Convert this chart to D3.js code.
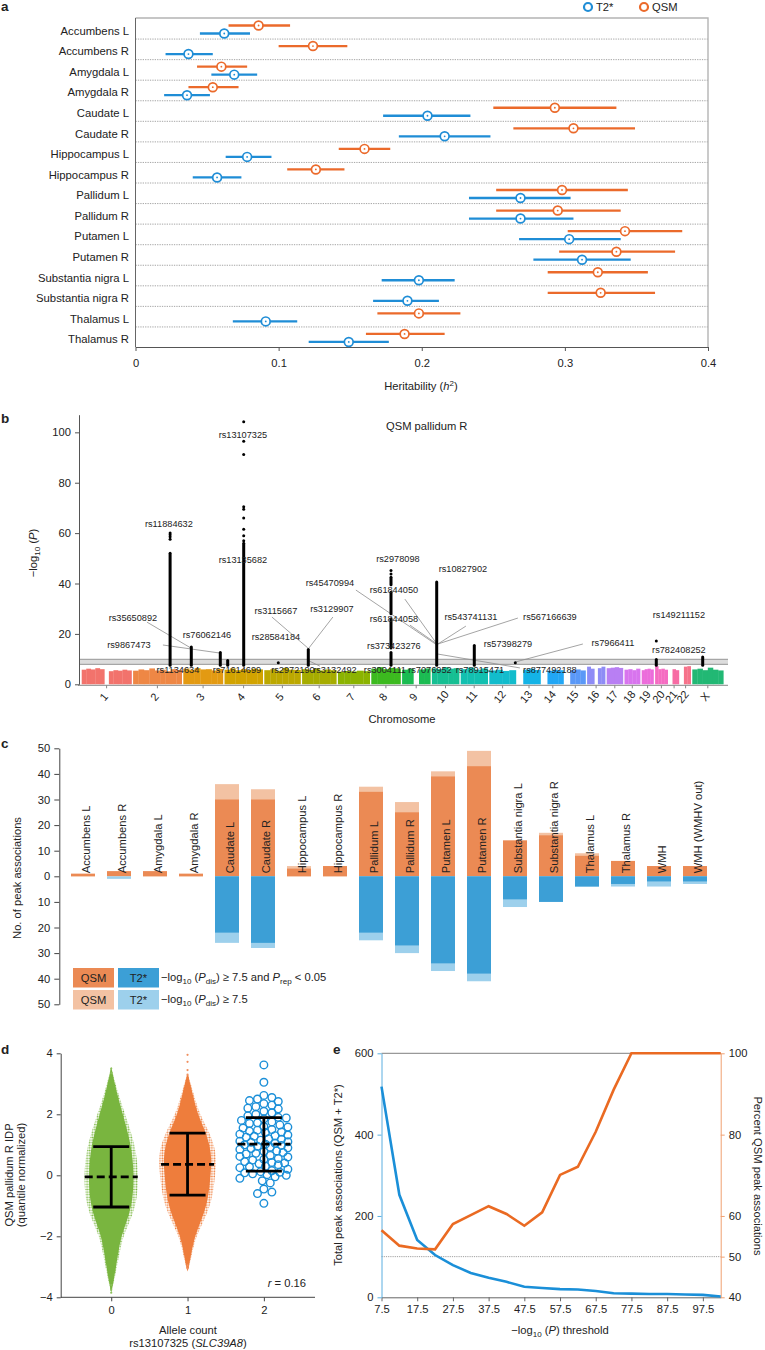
<!DOCTYPE html>
<html><head><meta charset="utf-8">
<script src="https://cdn.jsdelivr.net/npm/d3@7"></script>
<style>
body{margin:0;background:#fff}
svg{display:block}
text{font-family:"Liberation Sans",Arial,Helvetica,sans-serif;fill:#222}
</style></head>
<body><svg id="fig" width="765" height="1350"></svg>
<script>
// ================= DATA =================
// --- panel a: heritability ---
const regions = ["Accumbens L","Accumbens R","Amygdala L","Amygdala R","Caudate L","Caudate R","Hippocampus L","Hippocampus R","Pallidum L","Pallidum R","Putamen L","Putamen R","Substantia nigra L","Substantia nigra R","Thalamus L","Thalamus R"];
const qsmH2 = [0.086,0.124,0.060,0.054,0.293,0.306,0.160,0.126,0.298,0.295,0.342,0.336,0.323,0.325,0.198,0.188];
const qsmLo = [0.065,0.100,0.043,0.037,0.250,0.264,0.142,0.106,0.252,0.252,0.302,0.296,0.288,0.288,0.169,0.161];
const qsmHi = [0.108,0.148,0.078,0.072,0.336,0.349,0.178,0.146,0.344,0.339,0.382,0.377,0.358,0.363,0.227,0.216];
const t2H2  = [0.062,0.037,0.069,0.036,0.204,0.216,0.078,0.057,0.269,0.269,0.303,0.312,0.198,0.190,0.091,0.149];
const t2Lo  = [0.045,0.021,0.053,0.020,0.173,0.184,0.063,0.040,0.233,0.233,0.268,0.278,0.172,0.166,0.068,0.121];
const t2Hi  = [0.080,0.054,0.085,0.052,0.234,0.248,0.095,0.074,0.304,0.306,0.339,0.346,0.223,0.212,0.113,0.177];
const h2Ticks = [0,0.1,0.2,0.3,0.4];

// --- panel b: Manhattan plot ---
const chroms = ["1","2","3","4","5","6","7","8","9","10","11","12","13","14","15","16","17","18","19","20","21","22","X"];
const chromLenMb = [249,243,198,191,181,171,159,146,141,136,135,133,115,107,102,90,81,78,59,63,48,51,155];
const chromColors = ["#f2736c","#ee8745","#e39a12","#d2a300","#bca800","#a6ac00","#8bb300","#3cba1f","#1bbc52","#16bf93","#12c0b0","#12bccc","#14b3e6","#22a7f5","#5a98f7","#8e8cf6","#b87ff3","#d874ee","#ec6cdb","#f56cc2","#f76ca4","#f6728a","#22b874"];
const noiseTop = [
 [5.8,6.2,5.9,6.4,6.0,0,5.2,5.6,5.4,5.8,5.5],
 [5.4,5.9,5.6,6.3,5.5,5.8,5.2,6.0,5.7],
 [6.2,5.8,6.4,5.9,6.0,5.5,6.1],
 [5.8,6.3,5.6,6.0,5.7,6.2,5.9],
 [5.6,6.0,5.4,6.5,5.8,5.7],
 [6.0,5.7,6.3,5.5,5.9,5.6],
 [5.0,5.3,5.1,5.4,5.2],
 [6.2,6.8,6.0,6.5,6.3],
 [5.8,6.2,0,5.9,6.3],
 [6.3,6.0,6.8,6.2,6.4],
 [6.0,6.6,5.8,6.3],
 [5.5,5.8,5.3,5.6],
 [0,5.8,6.2,5.7],
 [0,5.4,5.8,5.6],
 [0,5.6,5.9,5.5],
 [7.0,6.2,0,6.4,7.0],
 [6.4,6.6,6.8,6.5],
 [5.8,6.0,5.6,6.2],
 [5.6,6.0,6.2,5.9],
 [7.2,6.0,6.2,5.8],
 [0,6.0,5.6],
 [0,7.0,7.2],
 [5.9,6.2,5.6,6.6,5.8,5.5]
];
const yTicksB = [0,20,40,60,80,100];
const threshBand = [7.9, 9.9];
// significant loci: chromosome, position (Mb), dense runs of -log10P, isolated points
const peaks = [
 {chr:"2", pos:185, runs:[[7.6,52]], dots:[57.6,58.6,59.4,60]},
 {chr:"3", pos:40,  runs:[[7.6,14.8]], dots:[]},
 {chr:"3", pos:185, runs:[[7.6,12.6]], dots:[]},
 {chr:"4", pos:16,  runs:[[7.6,9.4]], dots:[]},
 {chr:"4", pos:96,  runs:[[7.6,56]], dots:[57,59,61.5,66,69.5,70.5,91.2,96.5,104.2]},
 {chr:"5", pos:70,  runs:[], dots:[8.6]},
 {chr:"6", pos:31,  runs:[[7.6,13.8]], dots:[]},
 {chr:"8", pos:98.5,runs:[[7.6,12.6],[14.4,26],[28,36.5],[39.5,42.5]], dots:[14.9,43.8,45.2]},
 {chr:"10",pos:24,  runs:[[7.6,40.6]], dots:[]},
 {chr:"11",pos:68,  runs:[[7.6,15.4]], dots:[]},
 {chr:"12",pos:130, runs:[], dots:[8.6]},
 {chr:"20",pos:6,   runs:[[7.6,9.8]], dots:[17.2]},
 {chr:"X", pos:52,  runs:[[7.6,10.8]], dots:[]}
];
// SNP annotations: genome coordinate (cumulative Mb), -log10P level, optional leader line [g1,v1,g2,v2]
const snpLabels = [
 {id:"rs13107325", g:806, v:98.9},
 {id:"rs11884632", g:436, v:63.6},
 {id:"rs13135682", g:806, v:49.3},
 {id:"rs45470994", g:1241, v:40.2, line:[1371,37.4,1776,15.6]},
 {id:"rs3115667",  g:971, v:29.1, line:[951,26.7,1131,14.4]},
 {id:"rs3129907",  g:1251, v:29.9, line:[1256,26.7,1136,14.4]},
 {id:"rs35650892", g:256, v:26.3, line:[326,24.7,546,14.4]},
 {id:"rs76062146", g:626, v:19.6},
 {id:"rs28584184", g:971, v:18.8},
 {id:"rs9867473",  g:236, v:15.6, line:[406,15.6,691,12.4]},
 {id:"rs373423276",g:1561, v:15.2},
 {id:"rs2978098",  g:1581, v:49.7},
 {id:"rs61844050", g:1561, v:37.4, line:[1616,33.8,1776,16]},
 {id:"rs61844058", g:1561, v:25.9, line:[1641,23.5,1776,16]},
 {id:"rs10827902", g:1906, v:45.8},
 {id:"rs543741131",g:1946, v:26.7, line:[1921,23.1,1781,16]},
 {id:"rs567166639",g:2341, v:26.7, line:[2181,26.3,1781,16]},
 {id:"rs57398279", g:2131, v:16},
 {id:"rs7966411",  g:2656, v:16.4, line:[2506,16,2166,8.8]},
 {id:"rs149211152",g:2986, v:27.5},
 {id:"rs782408252",g:2986, v:13.6},
 {id:"rs1134634",  g:481, v:5.7},
 {id:"rs71614699", g:776, v:5.7},
 {id:"rs2972190",  g:1056, v:5.7},
 {id:"rs3132492",  g:1266, v:5.7, line:[1131,9.5,1191,7.2]},
 {id:"rs3004111",  g:1516, v:5.7},
 {id:"rs7076952",  g:1741, v:5.7},
 {id:"rs78915471", g:1991, v:5.7},
 {id:"rs877492188",g:2341, v:5.7, line:[1781,12,2191,6.5]}
];

// --- panel c: peak associations ---
const peakCats = ["Accumbens L","Accumbens R","Amygdala L","Amygdala R","Caudate L","Caudate R","Hippocampus L","Hippocampus R","Pallidum L","Pallidum R","Putamen L","Putamen R","Substantia nigra L","Substantia nigra R","Thalamus L","Thalamus R","WMH","WMH (WMHV out)"];
const qsmRep   = [1,2,2,1,30,30,3,4,33,25,39,43,14,16,8,6,4,4];
const qsmAll   = [1,2,2,1,36,34,4,4,35,29,41,49,14,17,9,6,4,4];
const t2Rep    = [0,0,0,0,22,26,0,0,22,27,34,38,9,10,4,3,2,2];
const t2All    = [0,1,0,0,26,28,0,0,25,30,37,41,12,10,4,4,4,3];
const cTicks = [-50,-40,-30,-20,-10,0,10,20,30,40,50];

// --- panel d: allele-count beeswarm ---
const alleleGroups = [0,1,2];
const groupMean = [-0.05,0.36,1.02];
const groupLo   = [-1.04,-0.65,0.14];
const groupHi   = [0.94,1.38,1.89];
const greenLevels = [3.55,3,2.5,2,1.5,1,0.5,0,-0.5,-1,-1.5,-2,-2.5,-3,-3.5,-3.85];
const greenHalf   = [0,0.052,0.105,0.17,0.229,0.284,0.314,0.327,0.321,0.295,0.229,0.144,0.105,0.069,0.033,0];
const orangeLevels = [3.3,3,2.5,2,1.5,1,0.5,0,-0.5,-1,-1.5,-2,-2.5,-3,-3.15];
const orangeHalf   = [0.007,0.039,0.092,0.148,0.249,0.323,0.353,0.334,0.314,0.275,0.196,0.105,0.059,0.02,0];
const greenTail  = [3.5,3.35,-3.6,-3.75,-3.85];
const orangeTail = [3.95,3.72,3.45,3.3,-3.05,-2.95];
const blueVals = [3.62,3.05,2.62,2.55,2.5,2.45,2.42,2.35,2.3,2.25,2.2,2.18,2.1,2.05,2.0,1.95,1.9,1.88,1.85,1.8,1.75,1.72,1.7,1.65,1.6,1.58,1.55,1.5,1.48,1.45,1.42,1.4,1.35,1.32,1.3,1.28,1.25,1.2,1.18,1.15,1.12,1.1,1.08,1.05,1.02,1.0,0.98,0.95,0.92,0.9,0.88,0.85,0.8,0.78,0.75,0.72,0.7,0.65,0.62,0.6,0.55,0.52,0.5,0.45,0.42,0.4,0.38,0.35,0.3,0.28,0.25,0.2,0.15,0.12,0.1,0.08,0.05,0.02,0.0,-0.05,-0.1,-0.18,-0.25,-0.45,-0.55,-0.6,-0.92];
const dTicks = [-4,-2,0,2,4];

// --- panel e: threshold curves ---
const thresholds = [7.5,12.5,17.5,22.5,27.5,32.5,37.5,42.5,47.5,52.5,57.5,62.5,67.5,72.5,77.5,82.5,87.5,92.5,97.5,102.5];
const totalPeaks = [518,252,141,104,79,60,48,38,26,23,20,19,15.5,10,9,8,8,7,6,2];
const pctQSM = [56.5,52.7,52,51.8,58,60.2,62.4,60.5,57.6,60.9,70.1,72.1,80.7,91,100,100,100,100,100,100];
const eXTicks = [7.5,17.5,27.5,37.5,47.5,57.5,67.5,77.5,87.5,97.5];
const eLTicks = [0,200,400,600];
const eRTicks = [40,50,60,80,100];

// ================= DRAWING =================
const svg = d3.select("#fig");
const BLUE = "#1f8dd6", ORANGE = "#eb6a2b";
const defs = svg.append("defs");
[["spkG","#7ab640"],["spkO","#ef7f3e"]].forEach(([id,c]) => {
  const p = defs.append("pattern").attr("id", id).attr("patternUnits","userSpaceOnUse").attr("width",2.6).attr("height",2.6);
  p.append("circle").attr("cx",1.3).attr("cy",1.3).attr("r",0.95).attr("fill",c);
});

function rich(t, parts){
  let shift = 0;
  parts.forEach(([s, st]) => {
    const sp = t.append("tspan").text(s);
    const target = st === "sub" ? 3 : (st === "sup" ? -4.5 : 0);
    if (st === "sub" || st === "sup") sp.attr("font-size", "0.72em");
    if (st === "it") sp.attr("font-style", "italic");
    if (target !== shift) { sp.attr("dy", target - shift); shift = target; }
  });
}
function panelLabel(s, x, y){
  svg.append("text").attr("x", x).attr("y", y).attr("font-size", 13.5).attr("font-weight", "bold").attr("fill","#111").text(s);
}
function styleAxis(g, color, fs){
  g.select(".domain").attr("stroke", color);
  g.selectAll(".tick line").attr("stroke", color);
  g.selectAll(".tick text").attr("font-size", fs).attr("fill", "#222")
   .attr("font-family", "'Liberation Sans',Arial,sans-serif");
}

// ---------- Panel a ----------
panelLabel("a", 1, 11);
const ax = d3.scaleLinear([0, 0.4], [135.5, 708]);
const ay = d3.scaleBand(regions, [18, 347]);
const gA = svg.append("g");
gA.selectAll("line.sep").data(regions.slice(1)).join("line")
  .attr("x1", ax(0)).attr("x2", ax(0.4))
  .attr("y1", d => ay(d) + 0.5).attr("y2", d => ay(d) + 0.5)
  .attr("stroke", "#8f8f8f").attr("stroke-width", 0.8).attr("stroke-dasharray", "1.3,1.1");
gA.append("path").attr("d", `M${ax(0)},18H${ax(0.4)}V347`).attr("fill", "none")
  .attr("stroke", "#b4b4b4").attr("stroke-width", 1.4);
gA.append("line").attr("x1", ax(0)).attr("x2", ax(0)).attr("y1", 18).attr("y2", 347).attr("stroke", "#666").attr("stroke-width", 1);
const axA = gA.append("g").attr("transform", "translate(0,347)")
  .call(d3.axisBottom(ax).tickValues(h2Ticks).tickFormat(d => String(d)).tickSize(4).tickSizeOuter(0).tickPadding(8));
styleAxis(axA, "#555", 11.2);
gA.selectAll("text.rl").data(regions).join("text")
  .attr("x", 129).attr("y", d => ay(d) + 16.8).attr("text-anchor", "end").attr("font-size", 11.3).text(d => d);
function drawH2(mean, lo, hi, color, off){
  const g = gA.append("g");
  g.selectAll("line").data(regions).join("line")
    .attr("x1", (d, i) => ax(lo[i])).attr("x2", (d, i) => ax(hi[i]))
    .attr("y1", d => ay(d) + off).attr("y2", d => ay(d) + off)
    .attr("stroke", color).attr("stroke-width", 2.3);
  g.selectAll("circle.o").data(regions).join("circle")
    .attr("cx", (d, i) => ax(mean[i])).attr("cy", d => ay(d) + off).attr("r", 4.4)
    .attr("fill", "#fff").attr("stroke", color).attr("stroke-width", 1.7);
  g.selectAll("circle.c").data(regions).join("circle")
    .attr("cx", (d, i) => ax(mean[i])).attr("cy", d => ay(d) + off).attr("r", 0.9).attr("fill", color);
}
drawH2(qsmH2, qsmLo, qsmHi, ORANGE, 7.5);
drawH2(t2H2, t2Lo, t2Hi, BLUE, 15.5);
[["T2*", BLUE, 588], ["QSM", ORANGE, 644]].forEach(([s, c, x]) => {
  gA.append("circle").attr("cx", x).attr("cy", 7).attr("r", 4).attr("fill", "#fff").attr("stroke", c).attr("stroke-width", 2.2);
  gA.append("text").attr("x", x + 8).attr("y", 11).attr("font-size", 11.2).text(s);
});
const ht = gA.append("text").attr("x", 421).attr("y", 390).attr("text-anchor", "middle").attr("font-size", 11.2);
rich(ht, [["Heritability (", ""], ["h", "it"], ["2", "sup"], [")", ""]]);

// ---------- Panel b ----------
panelLabel("b", 1, 423);
const gB = svg.append("g");
const chromStart = [];
let acc = 0;
chromLenMb.forEach((L, i) => { chromStart.push(acc); acc += L + 8; });
const genomeTotal = acc - 8;
const bx = d3.scaleLinear([0, genomeTotal], [81.7, 723.3]);
const by = d3.scaleLinear([0, 107], [684.3, 414.7]);
const gpos = (chr, pos) => chromStart[chroms.indexOf(chr)] + pos;
chroms.forEach((c, i) => {
  const arr = noiseTop[i], n = arr.length, L = chromLenMb[i], s0 = chromStart[i];
  arr.forEach((v, j) => {
    if (v <= 0) return;
    const a = s0 + L * j / n, b = s0 + L * (j + 1) / n;
    gB.append("rect").attr("x", bx(a)).attr("width", Math.max(0.5, bx(b) - bx(a) + 0.3))
      .attr("y", by(v)).attr("height", by(0) - by(v)).attr("fill", chromColors[i]);
  });
});
gB.append("rect").attr("x", 79).attr("width", 649).attr("y", by(threshBand[1])).attr("height", by(threshBand[0]) - by(threshBand[1]))
  .attr("fill", "#d6d6d6").attr("opacity", 0.85);
threshBand.forEach(t => gB.append("line").attr("x1", 79).attr("x2", 728).attr("y1", by(t)).attr("y2", by(t)).attr("stroke", "#a6a6a6").attr("stroke-width", 1.4));
gB.append("line").attr("x1", 78).attr("x2", 728).attr("y1", by(0) + 1).attr("y2", by(0) + 1).attr("stroke", "#888").attr("stroke-width", 1);
const axB = gB.append("g").attr("transform", "translate(79,0)")
  .call(d3.axisLeft(by).tickValues(yTicksB).tickSize(4).tickSizeOuter(0).tickPadding(4));
styleAxis(axB, "#555", 11.2);
chroms.forEach((c, i) => {
  const cxp = bx(chromStart[i] + chromLenMb[i] / 2);
  gB.append("line").attr("x1", cxp).attr("x2", cxp).attr("y1", by(0) + 1).attr("y2", by(0) + 4).attr("stroke", "#888");
  gB.append("text").attr("transform", `translate(${cxp},${by(0) + 15}) rotate(-50)`)
    .attr("text-anchor", "middle").attr("font-size", 11).text(c);
});
gB.append("text").attr("x", 402).attr("y", 723).attr("text-anchor", "middle").attr("font-size", 11.2).text("Chromosome");
const ylb = gB.append("text").attr("transform", "translate(37,553) rotate(-90)").attr("text-anchor", "middle").attr("font-size", 11.2);
rich(ylb, [["\u2212log", ""], ["10", "sub"], [" (", ""], ["P", "it"], [")", ""]]);
gB.append("text").attr("x", 386).attr("y", 430).attr("font-size", 11.2).text("QSM pallidum R");
gB.selectAll("line.ld").data(snpLabels.filter(d => d.line)).join("line")
  .attr("x1", d => bx(d.line[0])).attr("y1", d => by(d.line[1]))
  .attr("x2", d => bx(d.line[2])).attr("y2", d => by(d.line[3]))
  .attr("stroke", "#8d8d8d").attr("stroke-width", 0.8);
peaks.forEach(p => {
  const x = bx(gpos(p.chr, p.pos));
  p.runs.forEach(([a, b]) => gB.append("line").attr("x1", x).attr("x2", x).attr("y1", by(a)).attr("y2", by(b))
    .attr("stroke", "#000").attr("stroke-width", 3).attr("stroke-linecap", "round"));
  p.dots.forEach(v => gB.append("circle").attr("cx", x).attr("cy", by(v)).attr("r", 1.5).attr("fill", "#000"));
});
gB.selectAll("text.snp").data(snpLabels).join("text")
  .attr("x", d => bx(d.g)).attr("y", d => by(d.v) + 3.3).attr("text-anchor", "middle")
  .attr("font-size", 9.2).attr("fill", "#1a1a1a").text(d => d.id);

// ---------- Panel c ----------
panelLabel("c", 1, 748);
const gC = svg.append("g");
const cx = d3.scaleBand(peakCats, [65, 713]).paddingInner(1 / 3).paddingOuter(1 / 6);
const cy = d3.scaleLinear([-50, 50], [1004.3, 748.3]);
const C_QL = "#f3c2a3", C_QD = "#eb8a54", C_TL = "#9dd0ec", C_TD = "#3c9fd6";
function barsUp(vals, col){ gC.append("g").selectAll("rect").data(peakCats).join("rect")
  .attr("x", d => cx(d)).attr("width", cx.bandwidth())
  .attr("y", (d, i) => cy(vals[i])).attr("height", (d, i) => cy(0) - cy(vals[i])).attr("fill", col); }
function barsDown(vals, col){ gC.append("g").selectAll("rect").data(peakCats).join("rect")
  .attr("x", d => cx(d)).attr("width", cx.bandwidth())
  .attr("y", cy(0)).attr("height", (d, i) => cy(-vals[i]) - cy(0)).attr("fill", col); }
barsUp(qsmAll, C_QL); barsUp(qsmRep, C_QD);
barsDown(t2All, C_TL); barsDown(t2Rep, C_TD);
const axC = gC.append("g").attr("transform", "translate(59.3,0)")
  .call(d3.axisLeft(cy).tickValues(cTicks).tickFormat(d => Math.abs(d)).tickSize(5).tickSizeOuter(0).tickPadding(4));
styleAxis(axC, "#444", 11.2);
gC.selectAll("text.cat").data(peakCats).join("text")
  .attr("transform", d => `translate(${cx(d) + cx.bandwidth() / 2 + 7},${cy(0) - 3}) rotate(-90)`)
  .attr("font-size", 11.2).text(d => d);
gC.append("text").attr("transform", "translate(21,878) rotate(-90)").attr("text-anchor", "middle").attr("font-size", 11.2).text("No. of peak associations");
[[C_QD, C_TD, 968, [["\u2212log", ""], ["10", "sub"], [" (", ""], ["P", "it"], ["dis", "sub"], [") \u2265 7.5 and ", ""], ["P", "it"], ["rep", "sub"], [" < 0.05", ""]]],
 [C_QL, C_TL, 990, [["\u2212log", ""], ["10", "sub"], [" (", ""], ["P", "it"], ["dis", "sub"], [") \u2265 7.5", ""]]]].forEach(([cq, ct, y, parts]) => {
  gC.append("rect").attr("x", 73).attr("y", y).attr("width", 41).attr("height", 19.5).attr("fill", cq);
  gC.append("rect").attr("x", 118).attr("y", y).attr("width", 41).attr("height", 19.5).attr("fill", ct);
  gC.append("text").attr("x", 93.5).attr("y", y + 14).attr("text-anchor", "middle").attr("font-size", 11.2).text("QSM");
  gC.append("text").attr("x", 138.5).attr("y", y + 14).attr("text-anchor", "middle").attr("font-size", 11.2).text("T2*");
  const t = gC.append("text").attr("x", 161).attr("y", y + 13).attr("font-size", 11.2);
  rich(t, parts);
});

// ---------- Panel d ----------
panelLabel("d", 1, 1054);
const gD = svg.append("g");
const dx = d3.scaleLinear([-0.662, 2.67], [60.7, 315]);
const dy = d3.scaleLinear([-4, 4], [1297.3, 1053.3]);
function violin(g0, levels, half, col, pat){
  const pts = levels.map((v, i) => ({v, w: half[i]}));
  const ar = k => d3.area().y(d => dy(d.v)).x0(d => dx(g0 - d.w * k)).x1(d => dx(g0 + d.w * k)).curve(d3.curveBasis);
  gD.append("path").attr("d", ar(1.08)(pts)).attr("fill", `url(#${pat})`);
  gD.append("path").attr("d", ar(0.9)(pts)).attr("fill", col);
}
violin(0, greenLevels, greenHalf, "#79b53f", "spkG");
violin(1, orangeLevels, orangeHalf, "#ee7d3c", "spkO");
greenTail.forEach(v => gD.append("circle").attr("cx", dx(0)).attr("cy", dy(v)).attr("r", 1.1).attr("fill", "#8cc05a"));
orangeTail.forEach(v => gD.append("circle").attr("cx", dx(1)).attr("cy", dy(v)).attr("r", 1.1).attr("fill", "#f09060"));
const placed = [];
blueVals.forEach(v => {
  const y = dy(v);
  let best = null, bestScore = Infinity;
  for (let k = 0; k < 40; k++) {
    const o = (k % 2 ? 1 : -1) * Math.ceil(k / 2) * 1.6;
    if (Math.abs(o) > 24) continue;
    const md = placed.length ? Math.min(...placed.map(p => Math.hypot(p.o - o, p.y - y))) : 99;
    if (md >= 7.2) { best = o; break; }
    const score = -md;
    if (score < bestScore) { bestScore = score; best = o; }
  }
  placed.push({o: best, y});
});
gD.selectAll("circle.b").data(placed).join("circle")
  .attr("cx", d => dx(2) + d.o).attr("cy", d => d.y).attr("r", 3.8)
  .attr("fill", "none").attr("stroke", "#1b8fd8").attr("stroke-width", 1.4);
alleleGroups.forEach((g, i) => {
  const x = dx(g);
  gD.append("line").attr("x1", x).attr("x2", x).attr("y1", dy(groupLo[i])).attr("y2", dy(groupHi[i])).attr("stroke", "#000").attr("stroke-width", 2.8);
  [groupLo[i], groupHi[i]].forEach(v => gD.append("line").attr("x1", x - 18).attr("x2", x + 18).attr("y1", dy(v)).attr("y2", dy(v)).attr("stroke", "#000").attr("stroke-width", 2.8));
  gD.append("line").attr("x1", x - 26.5).attr("x2", x + 26.5).attr("y1", dy(groupMean[i])).attr("y2", dy(groupMean[i]))
    .attr("stroke", "#000").attr("stroke-width", 2.8).attr("stroke-dasharray", "8,4");
});
const axDy = gD.append("g").attr("transform", "translate(60.7,0)")
  .call(d3.axisLeft(dy).tickValues(dTicks).tickFormat(d => d < 0 ? "\u2212" + Math.abs(d) : String(d)).tickSize(4).tickSizeOuter(0).tickPadding(4));
styleAxis(axDy, "#444", 11.2);
gD.append("line").attr("x1", 60.7).attr("x2", 315).attr("y1", 1297.3).attr("y2", 1297.3).attr("stroke", "#444");
const axDx = gD.append("g").attr("transform", "translate(0,1297.3)")
  .call(d3.axisBottom(dx).tickValues(alleleGroups).tickFormat(d3.format("d")).tickSize(4).tickSizeOuter(0).tickPadding(5));
axDx.select(".domain").remove();
styleAxis(axDx, "#444", 11.2);
gD.append("text").attr("x", 188).attr("y", 1334).attr("text-anchor", "middle").attr("font-size", 11.2).text("Allele count");
const rsT = gD.append("text").attr("x", 188).attr("y", 1347).attr("text-anchor", "middle").attr("font-size", 11.2);
rich(rsT, [["rs13107325 (", ""], ["SLC39A8", "it"], [")", ""]]);
gD.append("text").attr("transform", "translate(13,1175) rotate(-90)").attr("text-anchor", "middle").attr("font-size", 11.2).text("QSM pallidum R IDP");
gD.append("text").attr("transform", "translate(25,1175) rotate(-90)").attr("text-anchor", "middle").attr("font-size", 11.2).text("(quantile normalized)");
const rT = gD.append("text").attr("x", 306).attr("y", 1287).attr("text-anchor", "end").attr("font-size", 11.2);
rich(rT, [["r", "it"], [" = 0.16", ""]]);

// ---------- Panel e ----------
panelLabel("e", 333, 1054);
const gE = svg.append("g");
const ex = d3.scaleLinear([7.5, 102.5], [381.5, 720.7]);
const eyL = d3.scaleLinear([0, 600], [1297.3, 1053.3]);
const eyR = d3.scaleLinear([40, 100], [1297.3, 1053.3]);
const E_BLUE = "#1a8fd8", E_OR = "#ea6a22";
gE.append("line").attr("x1", ex(7.5)).attr("x2", ex(102.5)).attr("y1", 1053.3).attr("y2", 1053.3).attr("stroke", "#999").attr("stroke-width", 1.2);
gE.append("line").attr("x1", ex(7.5)).attr("x2", ex(102.5)).attr("y1", eyR(50)).attr("y2", eyR(50)).attr("stroke", "#777").attr("stroke-width", 0.7).attr("stroke-dasharray", "1.2,1");
const axEx = gE.append("g").attr("transform", "translate(0,1297.3)")
  .call(d3.axisBottom(ex).tickValues(eXTicks).tickFormat(d => d.toFixed(1)).tickSize(4).tickSizeOuter(0).tickPadding(4));
styleAxis(axEx, "#666", 11.2);
const axEl = gE.append("g").attr("transform", `translate(${ex(7.5)},0)`)
  .call(d3.axisLeft(eyL).tickValues(eLTicks).tickSize(4).tickSizeOuter(0).tickPadding(4));
styleAxis(axEl, "#5aaee0", 11.2); axEl.selectAll(".tick text").attr("fill", "#2a97d9");
const axEr = gE.append("g").attr("transform", `translate(${ex(102.5)},0)`)
  .call(d3.axisRight(eyR).tickValues(eRTicks).tickSize(4).tickSizeOuter(0).tickPadding(4));
styleAxis(axEr, "#f0a070", 11.2); axEr.selectAll(".tick text").attr("fill", "#ec7a3a");
gE.append("path").datum(thresholds).attr("fill", "none").attr("stroke", E_BLUE).attr("stroke-width", 2.6)
  .attr("d", d3.line().x(d => ex(d)).y((d, i) => eyL(totalPeaks[i])));
gE.append("path").datum(thresholds).attr("fill", "none").attr("stroke", E_OR).attr("stroke-width", 2.6)
  .attr("d", d3.line().x(d => ex(d)).y((d, i) => eyR(pctQSM[i])));
gE.append("text").attr("transform", "translate(342,1175) rotate(-90)").attr("text-anchor", "middle").attr("font-size", 11.2).attr("fill", "#2a97d9").text("Total peak associations (QSM + T2*)");
gE.append("text").attr("transform", "translate(754,1176) rotate(90)").attr("text-anchor", "middle").attr("font-size", 11.2).attr("fill", "#ec7a3a").text("Percent QSM peak associations");
const exl = gE.append("text").attr("x", 560).attr("y", 1334).attr("text-anchor", "middle").attr("font-size", 11.2);
rich(exl, [["\u2212log", ""], ["10", "sub"], [" (", ""], ["P", "it"], [") threshold", ""]]);
</script></body></html>
